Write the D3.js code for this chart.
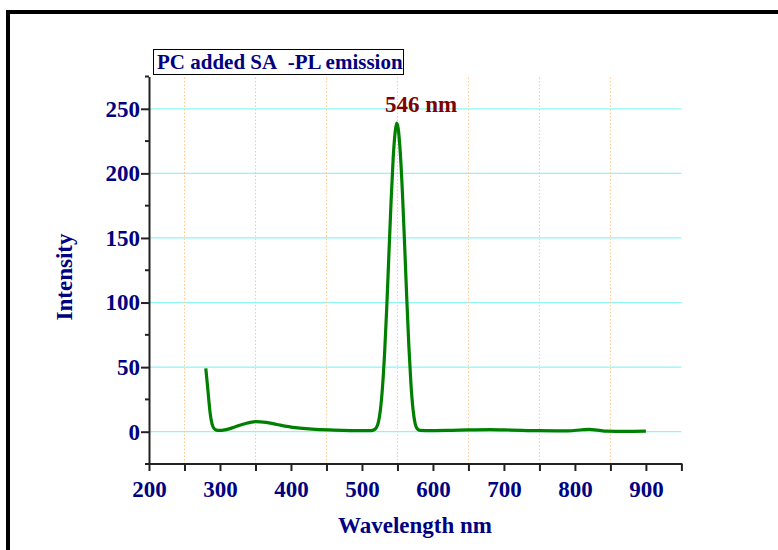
<!DOCTYPE html>
<html>
<head>
<meta charset="utf-8">
<script src="https://cdn.jsdelivr.net/npm/d3@7"></script>
<style>
  html, body { margin: 0; padding: 0; background: #fff; }
  svg { display: block; }
  text { font-family: "Liberation Serif", "Times New Roman", serif; font-weight: bold; }
</style>
</head>
<body>
<svg id="chart" width="778" height="550"></svg>
<script>
// ---- data ----
const wavelengths = [280, 282, 284, 286, 288, 290, 293, 297, 302, 310, 320, 335, 350, 365, 380, 400, 430, 460, 500, 513, 517, 520, 523, 526, 529, 532, 535, 538, 541, 544, 547, 549, 551, 554, 557, 560, 563, 566, 569, 572, 575, 578, 582, 590, 620, 650, 680, 710, 750, 790, 810, 820, 832, 845, 870, 900];
const intensity   = [49, 38, 26, 15, 8, 4, 1.8, 1.0, 1.0, 1.8, 3.5, 6.2, 7.8, 7.2, 5.6, 3.6, 2.0, 1.3, 0.8, 0.9, 1.5, 3, 7, 17, 35, 62, 97, 138, 178, 212, 233, 239, 235, 216, 185, 146, 105, 67, 37, 17, 6, 2.2, 1.0, 0.9, 1.0, 1.4, 1.6, 1.3, 0.8, 0.7, 1.5, 1.8, 1.2, 0.4, 0.2, 0.4];
const xMajorTicks = [200, 300, 400, 500, 600, 700, 800, 900];
const xMinorTicks = [250, 350, 450, 550, 650, 750, 850, 950];
const yMajorTicks = [0, 50, 100, 150, 200, 250];
const yMinorTicks = [-25, 25, 75, 125, 175, 225, 275];
const chartTitle = "PC added SA\u00A0\u00A0-PL emission";
const peakLabel = "546 nm";
const xTitle = "Wavelength nm";
const yTitle = "Intensity";

const svg = d3.select("#chart");
const navy = "#000080";

// outer frame
svg.append("rect").attr("x", 8).attr("y", 12).attr("width", 820).attr("height", 600)
  .attr("fill", "none").attr("stroke", "#000").attr("stroke-width", 4);

const x = d3.scaleLinear().domain([200, 950]).range([149, 681.4]);
const y = d3.scaleLinear().domain([-25, 275]).range([464, 76.5]);

// grid: horizontal cyan at major y ticks
svg.append("g").selectAll("line").data(yMajorTicks).join("line")
  .attr("x1", x(200)).attr("x2", x(950))
  .attr("y1", d => y(d)).attr("y2", d => y(d))
  .attr("stroke", "#8ff5f5").attr("stroke-width", 1.2);

// grid: vertical orange dotted at minor x ticks
svg.append("g").selectAll("line").data(xMinorTicks.filter(d => d < 950)).join("line")
  .attr("x1", d => x(d)).attr("x2", d => x(d))
  .attr("y1", y(-25)).attr("y2", y(275))
  .attr("stroke", "#ffc890").attr("stroke-width", 1).attr("stroke-dasharray", "1.5,2");

// curve
const line = d3.line().x((d, i) => x(wavelengths[i])).y(d => y(d)).curve(d3.curveMonotoneX);
svg.append("path").datum(intensity).attr("d", line)
  .attr("fill", "none").attr("stroke", "#008000").attr("stroke-width", 3.2)
  .attr("stroke-linejoin", "round").attr("stroke-linecap", "butt");

// x axis
const xAxis = svg.append("g").attr("transform", `translate(0,${y(-25)})`)
  .call(d3.axisBottom(x).tickValues(xMajorTicks.concat(xMinorTicks)).tickSize(7).tickSizeOuter(0)
    .tickFormat(d => xMajorTicks.includes(d) ? d : ""));
xAxis.select(".domain").attr("stroke", "#222").attr("stroke-width", 2).attr("d", `M${x(200)-3},0H${x(950)+1}`);
xAxis.selectAll(".tick line").attr("stroke", "#222").attr("stroke-width", 2);
xAxis.selectAll(".tick text").attr("fill", navy).attr("font-size", 23).attr("dy", "0.71em").attr("y", 17)
  .attr("font-family", "Liberation Serif").attr("font-weight", "bold");

// y axis
const yAxis = svg.append("g").attr("transform", `translate(${x(200)},0)`)
  .call(d3.axisLeft(y).tickValues(yMajorTicks).tickSize(8).tickSizeOuter(0));
yAxis.select(".domain").attr("stroke", "#222").attr("stroke-width", 2);
yAxis.selectAll(".tick line").attr("stroke", "#222").attr("stroke-width", 2);
yAxis.selectAll(".tick text").attr("fill", navy).attr("font-size", 23).attr("x", -9)
  .attr("font-family", "Liberation Serif").attr("font-weight", "bold");
svg.append("g").selectAll("line").data(yMinorTicks).join("line")
  .attr("x1", x(200) - 4).attr("x2", x(200))
  .attr("y1", d => y(d)).attr("y2", d => y(d))
  .attr("stroke", "#222").attr("stroke-width", 2);

// axis titles
svg.append("text").attr("x", 415).attr("y", 533).attr("text-anchor", "middle")
  .attr("fill", navy).attr("font-size", 23).text(xTitle);
svg.append("text").attr("transform", "translate(72,277) rotate(-90)").attr("text-anchor", "middle")
  .attr("fill", navy).attr("font-size", 23).text(yTitle);

// title box
svg.append("rect").attr("x", 153.5).attr("y", 49.5).attr("width", 250).attr("height", 25)
  .attr("fill", "#fff").attr("stroke", "#000").attr("stroke-width", 1);
svg.append("text").attr("x", 157).attr("y", 69).attr("fill", navy).attr("font-size", 21).text(chartTitle);

// peak label
svg.append("text").attr("x", 385).attr("y", 112).attr("fill", "#800000").attr("font-size", 23).text(peakLabel);
</script>
</body>
</html>
